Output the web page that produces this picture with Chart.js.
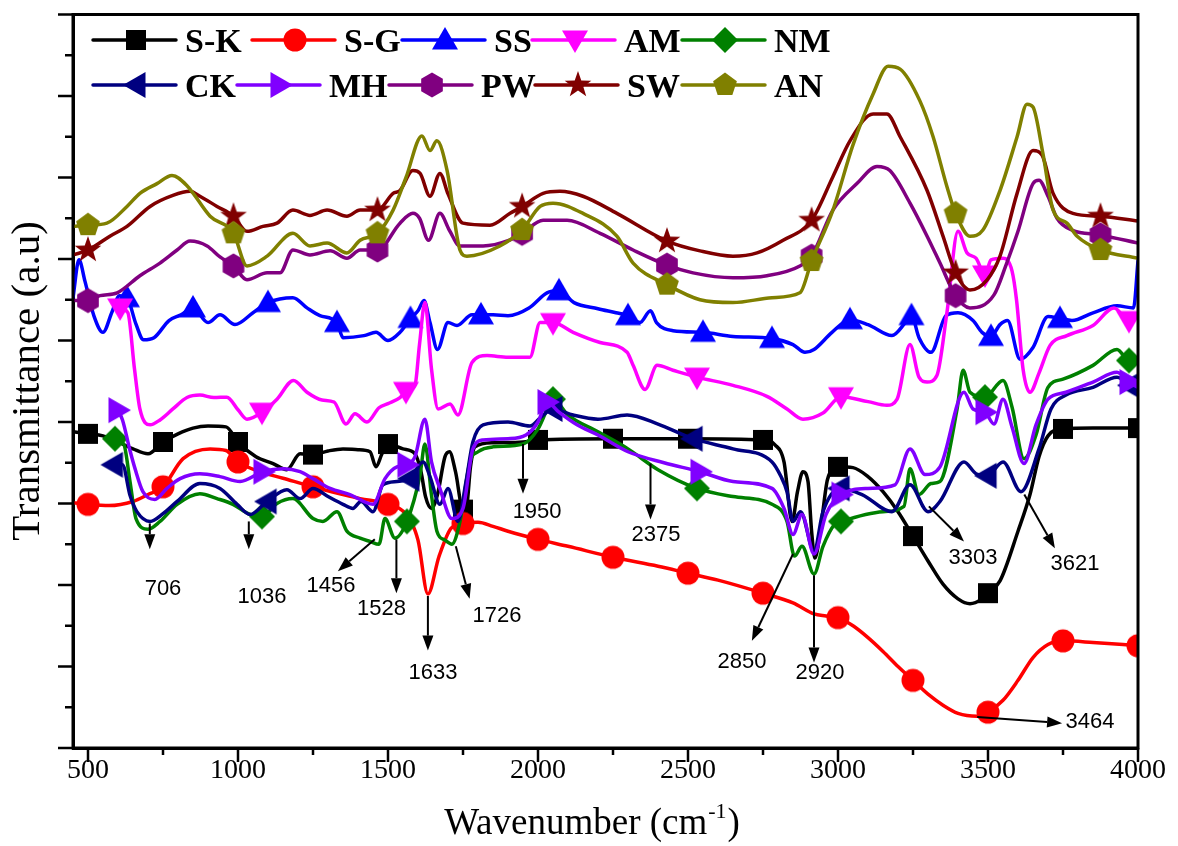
<!DOCTYPE html>
<html>
<head>
<meta charset="utf-8">
<title>FTIR spectra</title>
<script src="https://cdn.jsdelivr.net/npm/chart.js@4.4.1/dist/chart.umd.min.js"></script>
<style>
  html, body { margin: 0; padding: 0; background: #fff; }
  canvas { display: block; }
</style>
</head>
<body>
<canvas id="ftir" width="1178" height="846"></canvas>
<script>
// ---- series metadata ----
const seriesNames  = ['S-K', 'S-G', 'SS', 'AM', 'NM', 'CK', 'MH', 'PW', 'SW', 'AN'];
const seriesColors = ['#000000', '#ff0000', '#0000ff', '#ff00ff', '#008000', '#000080', '#8000ff', '#800080', '#800000', '#808000'];
const markerShapes = ['square', 'circle', 'up', 'down', 'diamond', 'left', 'right', 'hexagon', 'star', 'pentagon'];

// ---- axis ticks ----
const xTickValues  = [500, 1000, 1500, 2000, 2500, 3000, 3500, 4000];
const xMinorTicks  = [750, 1250, 1750, 2250, 2750, 3250, 3750];
const yMajorTicks  = [0, 2, 4, 6, 8, 10, 12, 14, 16, 18];
const yMinorTicks  = [1, 3, 5, 7, 9, 11, 13, 15, 17];

// ---- spectra: [wavenumber (cm-1), transmittance (a.u)] ----
const skData = [[450,7.76],[500,7.71],[550,7.66],[600,7.51],[650,7.34],[700,7.22],[750,7.51],[800,7.71],[850,7.85],[900,7.90],[960,7.88],[1000,7.51],[1060,7.15],[1117,6.98],[1163,6.83],[1207,7.22],[1250,7.20],[1300,7.29],[1350,7.34],[1400,7.32],[1440,7.27],[1460,6.90],[1480,7.22],[1500,7.46],[1550,7.34],[1590,7.22],[1610,6.78],[1625,6.17],[1645,5.88],[1665,6.22],[1690,7.15],[1705,7.27],[1725,6.78],[1750,5.85],[1762,5.93],[1775,6.90],[1790,7.39],[1850,7.49],[1950,7.51],[2000,7.56],[2250,7.59],[2500,7.59],[2750,7.56],[2790,7.44],[2820,7.02],[2847,5.56],[2865,6.29],[2883,6.78],[2900,6.54],[2912,5.32],[2923,4.66],[2945,5.56],[2965,6.59],[3000,6.90],[3050,6.88],[3100,6.66],[3150,6.29],[3200,5.80],[3250,5.20],[3300,4.59],[3350,4.02],[3400,3.66],[3440,3.54],[3480,3.66],[3500,3.80],[3540,4.10],[3600,5.32],[3640,6.22],[3670,7.15],[3700,7.66],[3750,7.83],[3850,7.85],[4000,7.85]];
const sgData = [[450,6.02],[500,5.98],[570,5.95],[650,6.05],[700,6.22],[750,6.41],[817,7.10],[907,7.34],[960,7.30],[1000,7.02],[1073,6.78],[1150,6.62],[1250,6.41],[1350,6.22],[1407,6.12],[1500,5.98],[1560,5.73],[1600,5.10],[1633,3.78],[1670,4.70],[1710,5.39],[1750,5.51],[1800,5.54],[1850,5.44],[1900,5.32],[2000,5.12],[2100,4.95],[2250,4.68],[2400,4.46],[2500,4.29],[2600,4.12],[2750,3.80],[2850,3.56],[2920,3.29],[2960,3.24],[3000,3.20],[3050,3.00],[3100,2.71],[3150,2.37],[3200,2.00],[3250,1.66],[3300,1.32],[3350,1.05],[3400,0.85],[3464,0.78],[3500,0.88],[3550,1.17],[3600,1.66],[3650,2.22],[3700,2.54],[3750,2.63],[3850,2.59],[4000,2.51]];
const ssData = [[450,11.05],[470,11.98],[490,11.45],[520,10.60],[550,10.20],[580,10.70],[605,11.10],[630,11.05],[660,10.40],[685,10.02],[720,10.07],[770,10.49],[810,10.63],[850,10.80],[900,10.44],[940,10.63],[990,10.39],[1050,10.68],[1100,10.93],[1183,11.05],[1230,10.80],[1273,10.61],[1330,10.44],[1350,10.07],[1420,10.12],[1460,10.20],[1500,10.00],[1540,10.20],[1575,10.54],[1600,10.73],[1620,10.98],[1640,10.44],[1665,9.78],[1700,10.44],[1730,10.37],[1780,10.63],[1810,10.63],[1850,10.63],[1900,10.61],[1970,10.80],[2030,11.17],[2070,11.22],[2120,10.93],[2200,10.78],[2260,10.68],[2300,10.61],[2340,10.44],[2375,10.73],[2395,10.44],[2450,10.24],[2550,10.20],[2650,10.10],[2780,10.05],[2850,9.90],[2890,9.71],[2920,9.78],[2980,10.20],[3040,10.51],[3100,10.39],[3180,10.12],[3225,10.44],[3245,10.61],[3270,10.07],[3310,9.71],[3360,10.61],[3400,10.68],[3450,10.49],[3480,10.20],[3510,10.10],[3540,10.39],[3565,10.49],[3607,9.54],[3650,9.83],[3700,10.59],[3740,10.54],[3780,10.49],[3850,10.68],[3930,10.85],[3985,10.80],[4000,11.95]];
const amData = [[585,10.93],[607,10.80],[633,10.68],[655,9.30],[673,8.32],[707,7.93],[740,8.05],[783,8.32],[830,8.60],[873,8.66],[920,8.60],[963,8.61],[1000,8.30],[1030,8.07],[1080,8.24],[1130,8.56],[1185,9.02],[1230,8.73],[1280,8.54],[1320,8.49],[1360,7.95],[1390,8.20],[1430,8.00],[1470,8.35],[1500,8.45],[1540,8.60],[1560,8.75],[1590,8.90],[1605,9.90],[1623,10.93],[1645,9.30],[1667,8.32],[1707,8.44],[1733,8.17],[1780,9.46],[1830,9.63],[1900,9.59],[1973,9.59],[2007,10.44],[2050,10.44],[2117,10.20],[2207,9.95],[2297,9.71],[2317,9.39],[2357,8.80],[2397,9.39],[2450,9.27],[2530,9.10],[2650,8.90],[2763,8.63],[2830,8.32],[2883,8.07],[2950,8.22],[3010,8.62],[3100,8.50],[3163,8.41],[3197,8.56],[3240,9.90],[3270,9.10],[3297,8.98],[3330,9.15],[3363,10.68],[3400,12.68],[3430,12.15],[3460,12.02],[3490,11.61],[3510,11.98],[3550,12.02],[3580,11.71],[3595,11.00],[3617,9.29],[3640,8.73],[3670,9.20],[3707,9.88],[3763,10.12],[3850,10.37],[3920,10.80],[3970,10.49],[4000,10.63]];
const nmData = [[590,7.59],[620,7.44],[640,6.54],[660,5.63],[700,5.37],[740,5.56],[797,5.98],[873,6.24],[930,6.12],[983,5.98],[1040,5.73],[1080,5.68],[1130,6.00],[1183,6.12],[1250,5.63],[1283,5.56],[1330,5.80],[1363,5.32],[1407,5.15],[1440,5.07],[1470,5.00],[1490,5.63],[1523,5.15],[1563,5.56],[1607,6.71],[1623,7.46],[1645,6.20],[1663,5.32],[1690,5.10],[1713,5.00],[1740,5.56],[1773,7.02],[1800,7.27],[1850,7.39],[1950,7.46],[2000,7.83],[2030,8.30],[2050,8.56],[2100,8.17],[2200,7.76],[2300,7.34],[2400,6.83],[2530,6.37],[2650,6.17],[2780,5.98],[2830,5.56],[2855,4.71],[2880,4.95],[2920,4.27],[2950,4.95],[2990,5.50],[3010,5.56],[3150,5.80],[3220,5.93],[3240,6.85],[3270,6.22],[3310,6.49],[3340,6.54],[3397,8.32],[3417,9.27],[3440,8.73],[3490,8.61],[3550,9.02],[3580,8.37],[3620,7.10],[3660,7.68],[3700,8.85],[3750,9.05],[3850,9.39],[3930,9.78],[3970,9.51],[4000,9.51]];
const ckData = [[585,6.95],[615,6.95],[640,6.20],[663,5.80],[707,5.56],[750,5.75],[797,6.05],[873,6.49],[940,6.37],[997,5.98],[1040,5.73],[1097,6.05],[1163,6.34],[1207,6.12],[1250,6.37],[1300,6.17],[1350,5.98],[1383,5.88],[1410,6.05],[1450,5.80],[1483,6.46],[1530,6.54],[1573,6.61],[1617,7.02],[1640,6.66],[1673,5.98],[1700,6.37],[1733,5.56],[1760,6.54],[1783,7.51],[1817,7.93],[1900,8.00],[1973,7.90],[2010,8.12],[2050,8.32],[2117,8.17],[2200,8.07],[2297,8.17],[2400,7.95],[2517,7.59],[2650,7.34],[2780,7.02],[2810,6.66],[2830,6.29],[2850,5.56],[2875,5.80],[2920,4.83],[2950,5.80],[3007,6.37],[3080,6.22],[3180,5.80],[3240,6.46],[3300,5.80],[3340,6.05],[3420,7.02],[3460,6.73],[3497,6.68],[3550,7.02],[3610,6.29],[3670,7.34],[3710,8.32],[3760,8.66],[3850,8.85],[3930,9.10],[3973,8.90],[4000,8.70]];
const mhData = [[600,8.29],[615,8.05],[640,7.30],[657,6.85],[683,6.29],[723,6.10],[763,6.37],[807,6.61],[873,6.73],[940,6.66],[1007,6.54],[1083,6.78],[1150,6.85],[1207,6.78],[1250,6.61],[1307,6.37],[1373,6.22],[1450,5.98],[1490,6.61],[1530,6.90],[1563,6.95],[1590,7.15],[1623,8.07],[1645,7.02],[1673,6.37],[1713,5.63],[1750,5.88],[1783,7.34],[1817,7.56],[1900,7.59],[1960,7.68],[2000,8.00],[2030,8.49],[2070,8.24],[2130,7.93],[2200,7.68],[2300,7.27],[2420,7.00],[2540,6.78],[2650,6.54],[2780,6.37],[2820,5.88],[2850,5.24],[2880,5.73],[2920,4.76],[2960,5.73],[3010,6.22],[3100,6.37],[3190,6.46],[3240,7.34],[3290,6.71],[3340,6.90],[3420,8.73],[3450,8.32],[3490,8.24],[3520,7.95],[3550,8.56],[3580,7.88],[3620,6.98],[3660,7.93],[3700,8.56],[3760,8.73],[3850,8.98],[3930,9.22],[3970,8.98],[4000,8.85]];
const pwData = [[450,10.98],[500,10.98],[540,11.10],[597,11.17],[673,11.59],[740,11.90],[797,12.22],[840,12.44],[897,12.32],[940,12.05],[985,11.83],[1030,11.49],[1097,11.66],[1140,11.66],[1183,12.22],[1240,12.10],[1307,12.20],[1363,12.02],[1407,12.22],[1465,12.22],[1540,12.88],[1583,13.12],[1605,13.00],[1635,12.46],[1673,13.12],[1705,12.70],[1740,12.32],[1817,12.32],[1900,12.45],[1947,12.63],[2017,12.95],[2097,12.95],[2207,12.63],[2317,12.22],[2430,11.85],[2517,11.66],[2650,11.54],[2763,11.59],[2873,11.83],[2912,12.07],[2983,13.20],[3063,13.85],[3130,14.27],[3173,14.17],[3240,13.37],[3297,12.56],[3340,11.90],[3392,11.10],[3440,10.80],[3520,11.12],[3560,11.85],[3600,12.68],[3650,13.85],[3670,13.93],[3700,13.54],[3730,13.00],[3780,12.71],[3875,12.59],[4000,12.39]];
const swData = [[450,12.10],[500,12.22],[573,12.56],[630,12.80],[707,13.29],[783,13.56],[840,13.66],[873,13.54],[930,13.29],[985,13.05],[1030,12.68],[1083,12.80],[1130,12.88],[1183,13.20],[1240,13.07],[1297,13.20],[1363,13.05],[1407,13.20],[1465,13.20],[1517,13.61],[1540,13.68],[1583,14.17],[1607,14.10],[1640,13.54],[1673,14.10],[1700,13.60],[1750,12.88],[1840,12.83],[1907,13.12],[1947,13.29],[2017,13.61],[2073,13.66],[2150,13.54],[2263,13.12],[2430,12.44],[2540,12.20],[2650,12.07],[2730,12.15],[2817,12.46],[2912,12.95],[2983,14.02],[3040,14.90],[3117,15.56],[3163,15.56],[3207,15.00],[3297,13.68],[3350,12.56],[3392,11.66],[3440,11.24],[3497,11.49],[3540,12.07],[3597,13.61],[3650,14.66],[3680,14.55],[3717,13.61],[3783,13.12],[3875,13.05],[4000,12.93]];
const anData = [[450,12.80],[500,12.83],[563,12.88],[630,13.29],[673,13.61],[730,13.85],[780,14.05],[830,13.80],[907,13.05],[985,12.63],[1030,11.83],[1097,12.07],[1183,12.63],[1240,12.32],[1297,12.39],[1363,12.15],[1407,12.46],[1465,12.63],[1517,13.20],[1560,14.00],[1613,15.02],[1640,14.66],[1663,14.90],[1697,14.17],[1740,12.22],[1763,12.07],[1873,12.32],[1947,12.71],[2007,13.29],[2050,13.37],[2150,13.12],[2263,12.56],[2317,11.90],[2430,11.37],[2540,11.00],[2650,10.93],[2780,11.05],[2873,11.17],[2912,11.95],[2983,13.20],[3050,14.80],[3117,16.05],[3167,16.73],[3207,16.66],[3273,15.88],[3317,15.00],[3363,13.78],[3392,13.12],[3440,12.56],[3483,12.71],[3540,13.68],[3597,15.00],[3630,15.80],[3650,15.73],[3683,14.59],[3717,13.20],[3763,12.88],[3797,12.56],[3875,12.22],[4000,12.02]];

// ---- wavenumbers carrying a symbol on each curve ----
const skMarks = [500, 750, 1000, 1250, 1500, 1750, 2000, 2250, 2500, 2750, 3000, 3250, 3500, 3750, 4000];
const sgMarks = [500, 750, 1000, 1250, 1500, 1750, 2000, 2250, 2500, 2750, 3000, 3250, 3500, 3750, 4000];
const ssMarks = [630, 850, 1100, 1330, 1575, 1810, 2070, 2300, 2550, 2780, 3040, 3245, 3510, 3740];
const amMarks = [607, 1080, 1560, 2050, 2530, 3010, 3490, 3970];
const nmMarks = [590, 1080, 1563, 2050, 2530, 3010, 3490, 3970];
const ckMarks = [585, 1097, 1573, 2050, 2517, 3007, 3497, 3973];
const mhMarks = [600, 1083, 1563, 2030, 2540, 3010, 3490, 3970];
const pwMarks = [500, 985, 1465, 1947, 2430, 2912, 3392, 3875];
const swMarks = [500, 985, 1465, 1947, 2430, 2912, 3392, 3875];
const anMarks = [500, 985, 1465, 1947, 2430, 2912, 3392, 3875];

// ---- band assignments: label text is the wavenumber the arrow starts from ----
const peakLabels = ['706', '1036', '1456', '1528', '1633', '1726', '1950', '2375', '2850', '2920', '3303', '3621', '3464'];
const peakArrows = [
  { fromY: 5.51, to: [706, 4.88],  text: [750, 3.90] },
  { fromY: 5.56, to: [1036, 4.88], text: [1080, 3.71] },
  { fromY: 5.12, to: [1333, 4.34], text: [1310, 3.98] },
  { fromY: 5.12, to: [1528, 3.80], text: [1478, 3.41] },
  { fromY: 3.73, to: [1633, 2.39], text: [1650, 1.83] },
  { fromY: 4.95, to: [1772, 3.66], text: [1863, 3.24] },
  { fromY: 7.46, to: [1950, 6.24], text: [1997, 5.80] },
  { fromY: 6.98, to: [2375, 5.61], text: [2393, 5.22] },
  { fromY: 4.76, to: [2713, 2.63], text: [2680, 2.12] },
  { fromY: 4.24, to: [2920, 2.10], text: [2940, 1.85] },
  { fromY: 5.93, to: [3420, 5.07], text: [3450, 4.66] },
  { fromY: 6.22, to: [3723, 4.90], text: [3790, 4.51] },
  { fromY: 0.76, to: [3747, 0.61], text: [3840, 0.63] }
];

const allData  = [skData, sgData, ssData, amData, nmData, ckData, mhData, pwData, swData, anData];
const allMarks = [skMarks, sgMarks, ssMarks, amMarks, nmMarks, ckMarks, mhMarks, pwMarks, swMarks, anMarks];

// ---- symbol sprites ----
function makeMarker(shape, color) {
  const s = 32, c = document.createElement('canvas');
  c.width = s; c.height = s;
  const g = c.getContext('2d');
  g.translate(s / 2, s / 2);
  g.fillStyle = color;
  g.beginPath();
  const poly = pts => { pts.forEach(([px, py], k) => k ? g.lineTo(px, py) : g.moveTo(px, py)); g.closePath(); };
  const regular = (n, r) => {
    const pts = [];
    for (let k = 0; k < n; k++) { const a = -Math.PI / 2 + k * 2 * Math.PI / n; pts.push([r * Math.cos(a), r * Math.sin(a)]); }
    poly(pts);
  };
  switch (shape) {
    case 'square':  g.rect(-10, -10, 20, 20); break;
    case 'circle':  g.arc(0, 0, 11.5, 0, 2 * Math.PI); break;
    case 'up':      poly([[0, -13], [13, 9.5], [-13, 9.5]]); break;
    case 'down':    poly([[0, 13], [13, -9.5], [-13, -9.5]]); break;
    case 'left':    poly([[-13, 0], [9.5, -13], [9.5, 13]]); break;
    case 'right':   poly([[13, 0], [-9.5, -13], [-9.5, 13]]); break;
    case 'diamond': poly([[0, -13], [13, 0], [0, 13], [-13, 0]]); break;
    case 'hexagon': regular(6, 12.5); break;
    case 'pentagon': regular(5, 12.5); break;
    case 'star': {
      const pts = [];
      for (let k = 0; k < 10; k++) {
        const a = -Math.PI / 2 + k * Math.PI / 5, r = k % 2 ? 5.6 : 14;
        pts.push([r * Math.cos(a), r * Math.sin(a)]);
      }
      poly(pts);
      break;
    }
  }
  g.fill();
  return c;
}
const markerSprites = seriesColors.map((col, i) => makeMarker(markerShapes[i], col));

// ---- datasets ----
const datasets = seriesNames.map((name, i) => {
  const marks = new Set(allMarks[i]);
  return {
    label: name,
    data: allData[i].map(([x, y]) => ({ x, y })),
    borderColor: seriesColors[i],
    backgroundColor: seriesColors[i],
    borderWidth: 3.5,
    borderJoinStyle: 'round',
    borderCapStyle: 'round',
    cubicInterpolationMode: 'monotone',
    fill: false,
    pointStyle: markerSprites[i],
    pointRadius: c => (c.raw && marks.has(c.raw.x)) ? 11 : 0,
    pointHoverRadius: 0,
    order: seriesNames.length - i
  };
});

// ---- frame, tick marks, titles and legend ----
const SERIF = '"Liberation Serif", "Times New Roman", serif';
const SANS = '"Liberation Sans", Arial, sans-serif';
const legendRows = [[0, 1, 2, 3, 4], [5, 6, 7, 8, 9]];
const legendX = [[93, 252, 402, 532, 682], [93, 237, 389, 535, 682]];
const legendY = [40, 85];

function drawArrow(ctx, x1, y1, x2, y2) {
  const ang = Math.atan2(y2 - y1, x2 - x1), L = 15, W = 5.5;
  const bx = x2 - L * Math.cos(ang), by = y2 - L * Math.sin(ang);
  ctx.beginPath();
  ctx.moveTo(x1, y1);
  ctx.lineTo(bx, by);
  ctx.stroke();
  ctx.beginPath();
  ctx.moveTo(x2, y2);
  ctx.lineTo(bx + W * Math.sin(ang), by - W * Math.cos(ang));
  ctx.lineTo(bx - W * Math.sin(ang), by + W * Math.cos(ang));
  ctx.closePath();
  ctx.fill();
}

const decorations = {
  id: 'decorations',
  afterDatasetsDraw(chart) {
    const { ctx, scales: { x, y } } = chart;
    ctx.save();
    ctx.strokeStyle = '#000';
    ctx.fillStyle = '#000';
    ctx.lineWidth = 2;
    ctx.font = '22px ' + SANS;
    ctx.textAlign = 'center';
    ctx.textBaseline = 'middle';
    peakArrows.forEach((p, k) => {
      const wn = Number(peakLabels[k]);
      drawArrow(ctx, x.getPixelForValue(wn), y.getPixelForValue(p.fromY),
                x.getPixelForValue(p.to[0]), y.getPixelForValue(p.to[1]));
      ctx.fillText(peakLabels[k], x.getPixelForValue(p.text[0]), y.getPixelForValue(p.text[1]));
    });
    ctx.restore();
  },
  afterDraw(chart) {
    const { ctx, chartArea: a, scales: { x, y } } = chart;
    ctx.save();
    ctx.strokeStyle = '#000';
    ctx.lineWidth = 3;
    ctx.strokeRect(a.left, a.top, a.right - a.left, a.bottom - a.top);

    ctx.lineWidth = 2.5;
    ctx.beginPath();
    xTickValues.forEach(v => { const p = x.getPixelForValue(v); ctx.moveTo(p, a.bottom); ctx.lineTo(p, a.bottom + 14); });
    xMinorTicks.forEach(v => { const p = x.getPixelForValue(v); ctx.moveTo(p, a.bottom); ctx.lineTo(p, a.bottom + 7); });
    yMajorTicks.forEach(v => { const p = y.getPixelForValue(v); ctx.moveTo(a.left, p); ctx.lineTo(a.left - 15, p); });
    yMinorTicks.forEach(v => { const p = y.getPixelForValue(v); ctx.moveTo(a.left, p); ctx.lineTo(a.left - 8, p); });
    ctx.stroke();

    // axis titles
    ctx.fillStyle = '#000';
    ctx.textBaseline = 'alphabetic';
    ctx.textAlign = 'left';
    const main = '37px ' + SERIF, sup = '22px ' + SERIF;
    ctx.font = main; const w1 = ctx.measureText('Wavenumber (cm').width; const w3 = ctx.measureText(')').width;
    ctx.font = sup;  const w2 = ctx.measureText('-1').width;
    let tx = 592 - (w1 + w2 + w3 + 2) / 2;
    const ty = 834;
    ctx.font = main; ctx.fillText('Wavenumber (cm', tx, ty); tx += w1 + 1;
    ctx.font = sup;  ctx.fillText('-1', tx, ty - 16); tx += w2 + 1;
    ctx.font = main; ctx.fillText(')', tx, ty);

    ctx.save();
    ctx.translate(39, 381);
    ctx.rotate(-Math.PI / 2);
    ctx.font = '41px ' + SERIF;
    ctx.textAlign = 'center';
    ctx.fillText('Transmittance (a.u)', 0, 0);
    ctx.restore();

    // legend
    legendRows.forEach((row, r) => {
      const cy = legendY[r];
      row.forEach((i, c) => {
        const x0 = legendX[r][c];
        ctx.strokeStyle = seriesColors[i];
        ctx.lineWidth = 3.5;
        ctx.lineCap = 'round';
        ctx.beginPath();
        ctx.moveTo(x0, cy);
        ctx.lineTo(x0 + 83, cy);
        ctx.stroke();
        const spr = markerSprites[i];
        ctx.drawImage(spr, x0 + 43 - spr.width / 2, cy - spr.height / 2);
        ctx.fillStyle = '#000';
        ctx.font = 'bold 34px ' + SERIF;
        ctx.textAlign = 'left';
        ctx.fillText(seriesNames[i], x0 + 92, cy + 12);
      });
    });
    ctx.restore();
  }
};

new Chart(document.getElementById('ftir'), {
  type: 'line',
  data: { datasets },
  options: {
    responsive: false,
    devicePixelRatio: 1,
    animation: false,
    events: [],
    layout: { padding: { left: 0, top: 10, right: 40, bottom: 0 } },
    plugins: { legend: { display: false }, tooltip: { enabled: false } },
    scales: {
      x: {
        type: 'linear',
        min: 450,
        max: 4000,
        afterBuildTicks: s => { s.ticks = xTickValues.map(v => ({ value: v })); },
        afterFit: s => { s.height = 98; },
        grid: { display: false, drawTicks: false },
        border: { display: true, color: '#000', width: 3 },
        ticks: {
          autoSkip: false,
          maxRotation: 0,
          padding: 6,
          color: '#000',
          font: { family: 'Liberation Serif', size: 28 },
          callback: v => String(v)
        }
      },
      y: {
        type: 'linear',
        min: 0,
        max: 18,
        afterFit: s => { s.width = 73; },
        grid: { display: false, drawTicks: false },
        border: { display: true, color: '#000', width: 3 },
        ticks: { display: false }
      }
    }
  },
  plugins: [decorations]
});
</script>
</body>
</html>
